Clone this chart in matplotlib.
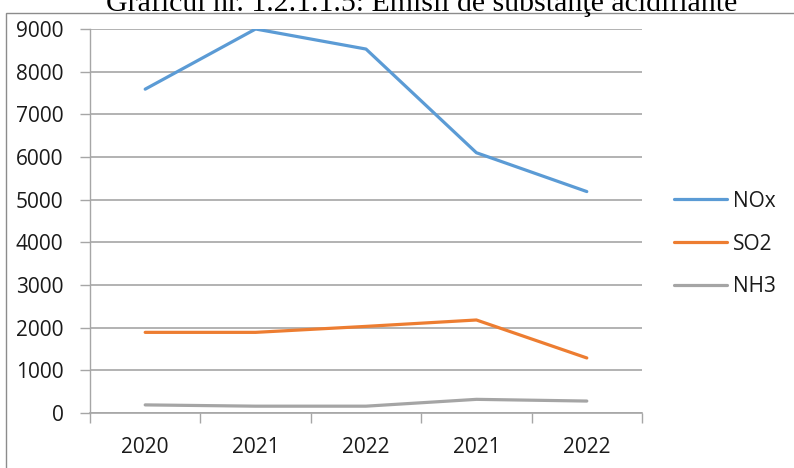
import matplotlib
matplotlib.use("Agg")
import matplotlib.pyplot as plt
from matplotlib.patches import Rectangle
import numpy as np

title = "Graficul nr. 1.2.1.1.5: Emisii de substanţe acidifiante"
categories = ["2020", "2021", "2022", "2021", "2022"]
series_names = ["NOx", "SO2", "NH3"]
nox = [7590, 9000, 8530, 6100, 5190]
so2 = [1890, 1890, 2030, 2180, 1290]
nh3 = [190, 160, 160, 320, 280]
colors = ["#5B9BD5", "#ED7D31", "#A5A5A5"]
yticks = [0, 1000, 2000, 3000, 4000, 5000, 6000, 7000, 8000, 9000]

W, H = 794, 468
plt.rcParams["font.family"] = ["Open Sans", "DejaVu Sans"]
fig = plt.figure(figsize=(W / 100, H / 100), dpi=100)

FS = 15

ax = fig.add_axes([90 / W, (H - 413) / H, (642 - 90) / W, (413 - 29) / H])
x = np.arange(len(categories))
for vals, name, c in zip([nox, so2, nh3], series_names, colors):
    ax.plot(x, vals, color=c, lw=2.3, label=name, solid_capstyle="round",
            solid_joinstyle="round", zorder=3)

ax.set_xlim(-0.5, len(categories) - 0.5)
ax.set_ylim(0, 9000)
ax.set_yticks(yticks)
ax.set_yticklabels([str(v) for v in yticks])
ax.set_xticks(x)
ax.set_xticklabels(categories)
ax.set_xticks(np.arange(-0.5, len(categories)), minor=True)
ax.tick_params(axis="x", which="major", length=0, pad=17, labelsize=FS, colors="#1a1a1a")
ax.tick_params(axis="x", which="minor", length=7, width=1, color="#A6A6A6", direction="out")
ax.tick_params(axis="y", length=7, width=1, color="#A6A6A6", direction="out", pad=12,
               labelsize=FS, labelcolor="#1a1a1a")
ax.grid(axis="y", color="#A6A6A6", lw=1.2, zorder=0)
for s in ["top", "right"]:
    ax.spines[s].set_visible(False)
ax.spines["left"].set_color("#A6A6A6")
ax.spines["bottom"].set_color("#A6A6A6")
ax.spines["left"].set_linewidth(1)
ax.spines["bottom"].set_linewidth(1.2)

leg = ax.legend(loc="center left", bbox_to_anchor=(674 / W, (H - 244) / H),
                bbox_transform=fig.transFigure, frameon=False, fontsize=FS,
                handlelength=2.55, handletextpad=0.3, labelspacing=1.05,
                borderaxespad=0, borderpad=0)
for t in leg.get_texts():
    t.set_color("#1a1a1a")

# outer chart border
fig.patches.append(Rectangle((5.5 / W, -0.05), 1.0, (H - 13) / H + 0.05,
                             transform=fig.transFigure, fill=False,
                             edgecolor="#8C8C8C", lw=1, clip_on=False))

fig.text(422 / W, 1 - 11 / H, title, ha="center", va="baseline",
         family=["Liberation Serif"], fontsize=21.5, color="#000000")

fig.savefig("out.png", dpi=100)
